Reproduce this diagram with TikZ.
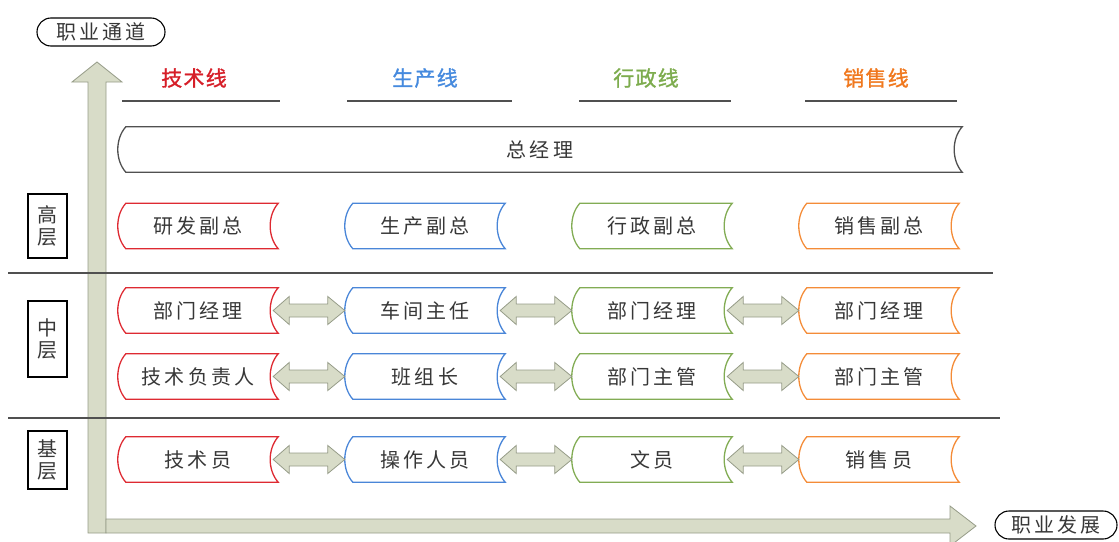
\documentclass[tikz,border=0pt]{standalone}
\usepackage{fontspec}
\newfontfamily\cjk[LetterSpace=16]{Noto Sans CJK SC}
\newfontfamily\cjkh[LetterSpace=6,FakeBold=1.3]{Noto Sans CJK SC}
\usetikzlibrary{calc}
\definecolor{cred}{RGB}{222,42,50}
\definecolor{cblue}{RGB}{74,134,216}
\definecolor{cgreen}{RGB}{130,172,84}
\definecolor{corange}{RGB}{244,140,56}
\definecolor{hred}{RGB}{214,30,40}
\definecolor{hblue}{RGB}{70,138,222}
\definecolor{hgreen}{RGB}{125,172,78}
\definecolor{horange}{RGB}{240,120,30}
\definecolor{txt}{RGB}{55,55,55}
\definecolor{afill}{RGB}{216,220,200}
\definecolor{adraw}{RGB}{150,156,136}
\definecolor{lgray}{RGB}{80,80,80}
\tikzset{
  fb/.style={minimum width=160pt,minimum height=45pt,inner sep=0pt,font=\cjk\fontsize{20}{22}\selectfont,text=txt},
  hdr/.style={inner sep=0pt,font=\cjkh\fontsize{21}{22}\selectfont},
  lvl/.style={draw=black,line width=1.3pt,minimum width=39pt,inner sep=0pt,align=center,font=\cjk\fontsize{20}{22}\selectfont,text=txt},
  pill/.style={draw=black,line width=1.1pt,rounded corners=14pt,minimum width=128pt,minimum height=28pt,inner sep=0pt,font=\cjk\fontsize{20}{22}\selectfont,text=txt},
  arrowst/.style={fill=afill,draw=adraw,line width=0.8pt},
  sep/.style={draw=lgray,line width=1.3pt},
}
\newcommand\flowshape[2]{%
  \draw[#2,line width=1.3pt] ([xshift=8pt]#1.north west) -- (#1.north east)
    .. controls +(-10.7,12) and +(-10.7,-12) .. (#1.south east)
    -- ([xshift=8pt]#1.south west)
    .. controls +(-10.7,-12) and +(-10.7,12) .. ([xshift=8pt]#1.north west) -- cycle;}
\newcommand\dblarr[2]{%
  \draw[arrowst] let \p1=([xshift=-5pt]#1.east), \p2=(#2.west) in
    (\x1,\y1) -- ++(16pt,14pt) -- ++(0pt,-7.5pt) -- (\x2-17pt,\y1+6.5pt) -- ++(0pt,7.5pt)
    -- (\x2,\y1) -- ++(-17pt,-14pt) -- ++(0pt,7.5pt) -- (\x1+16pt,\y1-6.5pt) -- ++(0pt,-7.5pt) -- cycle;}
\begin{document}
\begin{tikzpicture}[x=1pt,y=-1pt]
\useasboundingbox (0,0) rectangle (1119,541);
% big axes arrows
\draw[arrowst] (88,533) -- (88,82) -- (72,82) -- (97,62) -- (122,82) -- (106,82) -- (106,533) -- cycle;
\draw[arrowst] (106,519) -- (950,519) -- (950,506) -- (976,526) -- (950,546) -- (950,533) -- (106,533) -- cycle;
% separator lines
\draw[sep] (8,273) -- (993,273);
\draw[sep] (8,418) -- (1000,418);
% pills
\node[pill] (yz) at (101,32) {职业通道};
\node[pill,minimum width=122pt] (fz) at (1056,525) {职业发展};
% level boxes
\node[lvl,minimum height=64pt] (gc) at (47.5,226) {高\\层};
\node[lvl,minimum height=76pt] (zc) at (47.5,339) {中\\层};
\node[lvl,minimum height=58pt] (jc) at (47.5,460) {基\\层};
% headers
\node[hdr,text=hred] (h1) at (194,78) {技术线};
\node[hdr,text=hblue] (h2) at (425,78) {生产线};
\node[hdr,text=hgreen] (h3) at (646,78) {行政线};
\node[hdr,text=horange] (h4) at (876,78) {销售线};
\draw[sep] (122,101) -- (280,101);
\draw[sep] (347,101) -- (512,101);
\draw[sep] (579,101) -- (731,101);
\draw[sep] (805,101) -- (957,101);
% top bar
\node[fb,minimum width=844pt] (zjl) at (540,149.5) {总经理};
\flowshape{zjl}{draw=lgray}
% rows
\node[fb] (a1) at (198,226) {研发副总};
\node[fb] (b1) at (425,226) {生产副总};
\node[fb] (c1) at (652,226) {行政副总};
\node[fb] (d1) at (879,226) {销售副总};
\node[fb] (a2) at (198,310.5) {部门经理};
\node[fb] (b2) at (425,310.5) {车间主任};
\node[fb] (c2) at (652,310.5) {部门经理};
\node[fb] (d2) at (879,310.5) {部门经理};
\node[fb] (a3) at (198,376.5) {技术负责人};
\node[fb] (b3) at (425,376.5) {班组长};
\node[fb] (c3) at (652,376.5) {部门主管};
\node[fb] (d3) at (879,376.5) {部门主管};
\node[fb] (a4) at (198,459.5) {技术员};
\node[fb] (b4) at (425,459.5) {操作人员};
\node[fb] (c4) at (652,459.5) {文员};
\node[fb] (d4) at (879,459.5) {销售员};
\foreach \r in {1,2,3,4}{
  \flowshape{a\r}{draw=cred}
  \flowshape{b\r}{draw=cblue}
  \flowshape{c\r}{draw=cgreen}
  \flowshape{d\r}{draw=corange}
}
\foreach \r in {2,3,4}{
  \dblarr{a\r}{b\r}
  \dblarr{b\r}{c\r}
  \dblarr{c\r}{d\r}
}
\end{tikzpicture}
\end{document}
